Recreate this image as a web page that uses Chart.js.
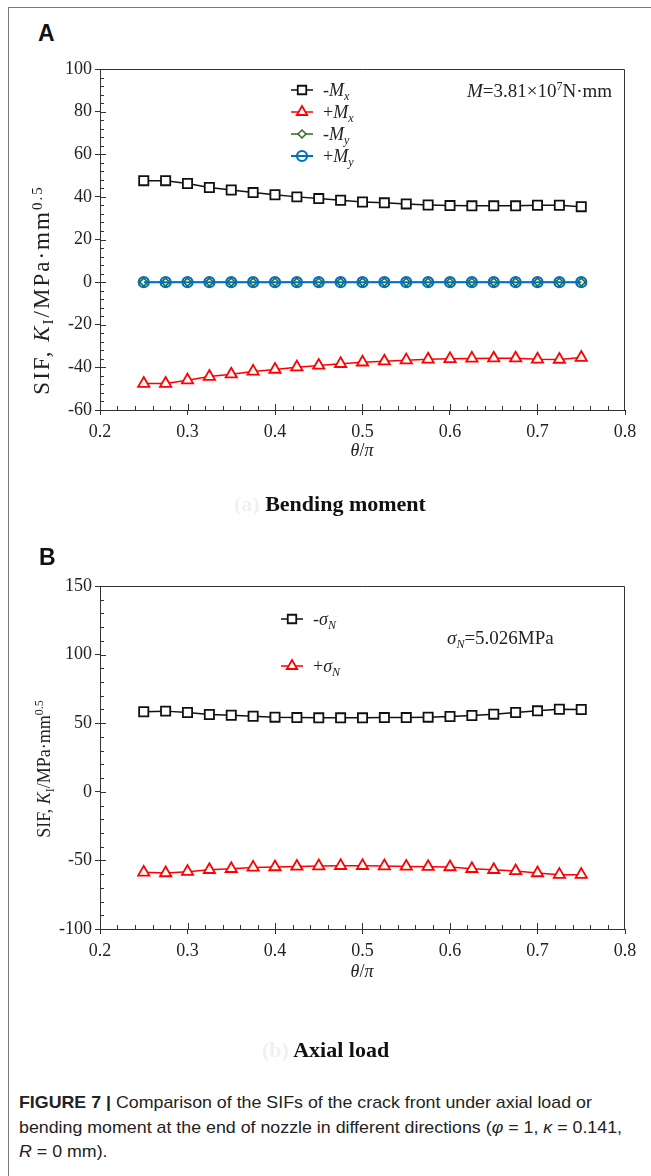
<!DOCTYPE html>
<html>
<head>
<meta charset="utf-8">
<title>Figure 7</title>
<script src="https://cdn.jsdelivr.net/npm/chart.js@4.4.1/dist/chart.umd.min.js"></script>
<style>
  html, body { margin: 0; padding: 0; background: #fff; }
  #page { position: relative; width: 651px; height: 1176px; overflow: hidden; }
  #frame { position: absolute; left: 8px; top: 7px; width: 700px; height: 1200px;
           border-left: 1.5px solid #7a7a7a; border-top: 1.5px solid #7a7a7a; }
  canvas { position: absolute; left: 0; }
  #chartA { top: 50px; }
  #chartB { top: 540px; }
  .t { position: absolute; white-space: nowrap; line-height: 1; transform: translateY(-50%);
       font-family: 'Liberation Serif', 'Times New Roman', serif; font-size: 18px; color: #222; }
  .c { transform: translate(-50%, -50%); }
  .rot { transform: translate(-50%, -50%) rotate(-90deg); }
  .big { font-size: 23px; letter-spacing: 2px; }
  .big .sub, .big .sup { font-size: 15px; }
  .panel { font-family: 'Liberation Sans', Arial, sans-serif; font-weight: bold; font-size: 23px; color: #111; }
  .sub { font-size: 12px; position: relative; top: 4px; }
  .sup { font-size: 12px; position: relative; top: -7px; }
  .sublbl { font-weight: bold; font-size: 22px; color: #111; }
  .faint { color: #f0f0f0; }
  .cap { position: absolute; left: 19px; top: 1091px; white-space: nowrap; transform-origin: 0 0;
         font-family: 'Liberation Sans', Arial, sans-serif;
         font-size: 17px; line-height: 24.5px; color: #222; }
  .cap span { display: inline-block; }
</style>
</head>
<body>
<div id="page">
  <div id="frame"></div>
  <canvas id="chartA" width="651" height="420"></canvas>
  <canvas id="chartB" width="651" height="440"></canvas>

  <!-- painel A -->
  <div class="t panel" style="left:38px; top:33px;">A</div>
  <div class="t" style="left:323px; top:90px;">-<i>M</i><i class="sub">x</i></div>
  <div class="t" style="left:323px; top:112px;">+<i>M</i><i class="sub">x</i></div>
  <div class="t" style="left:323px; top:134px;">-<i>M</i><i class="sub">y</i></div>
  <div class="t" style="left:323px; top:156px;">+<i>M</i><i class="sub">y</i></div>
  <div class="t" style="left:467px; top:90px; font-size:19px;"><i>M</i>=3.81×10<span class="sup">7</span>N·mm</div>
  <div class="t rot big" style="left:41px; top:290px;">SIF, <i>K</i><span class="sub">I</span>/MPa·mm<span class="sup">0.5</span></div>
  <div class="t c" style="left:362px; top:450px;"><i>θ</i>/<i>π</i></div>
  <div class="t sublbl" style="left:234px; top:504px;"><span class="faint">(a)</span> Bending moment</div>

  <!-- painel B -->
  <div class="t panel" style="left:39px; top:557px;">B</div>
  <div class="t" style="left:313px; top:619px;">-<i>σ<span class="sub">N</span></i></div>
  <div class="t" style="left:313px; top:666px;">+<i>σ<span class="sub">N</span></i></div>
  <div class="t" style="left:447px; top:637px; font-size:19px;"><i>σ<span class="sub">N</span></i>=5.026MPa</div>
  <div class="t rot" style="left:44px; top:769px;">SIF, <i>K</i><span class="sub">I</span>/MPa·mm<span class="sup">0.5</span></div>
  <div class="t c" style="left:362px; top:971px;"><i>θ</i>/<i>π</i></div>
  <div class="t sublbl" style="left:262px; top:1050px;"><span class="faint">(b)</span> Axial load</div>

  <div class="cap" id="legenda"><span><b>FIGURE 7 |</b> Comparison of the SIFs of the crack front under axial load or</span><br>
  <span id="linha2">bending moment at the end of nozzle in different directions (<i>φ</i> = 1, <i>κ</i> = 0.141,</span><br>
  <span><i>R</i> = 0 mm).</span></div>
</div>

<script>
// Posições ao longo da frente da trinca (θ/π)
const theta = [0.25, 0.275, 0.3, 0.325, 0.35, 0.375, 0.4, 0.425, 0.45, 0.475, 0.5,
               0.525, 0.55, 0.575, 0.6, 0.625, 0.65, 0.675, 0.7, 0.725, 0.75];

// (a) momento fletor
const negMx = [47.6, 47.6, 46.3, 44.4, 43.2, 42.0, 41.0, 40.0, 39.2, 38.4, 37.6,
               37.2, 36.7, 36.2, 35.9, 35.8, 35.8, 35.8, 36.1, 36.1, 35.4];
const posMx = [-47.6, -47.6, -46.0, -44.3, -43.2, -41.9, -41.0, -39.9, -39.1, -38.3, -37.6,
               -37.1, -36.6, -36.2, -36.0, -35.8, -35.7, -35.7, -36.2, -36.3, -35.4];
const negMy = [0, 0, 0, 0, 0, 0, 0, 0, 0, 0, 0, 0, 0, 0, 0, 0, 0, 0, 0, 0, 0];
const posMy = [0, 0, 0, 0, 0, 0, 0, 0, 0, 0, 0, 0, 0, 0, 0, 0, 0, 0, 0, 0, 0];

// (b) carga axial
const negSigma = [58.3, 58.8, 57.8, 56.3, 55.8, 55.1, 54.4, 54.1, 53.9, 53.9, 53.9,
                  54.1, 54.1, 54.4, 54.9, 55.6, 56.6, 57.8, 59.0, 60.2, 60.0];
const posSigma = [-58.7, -59.2, -58.2, -56.8, -56.1, -55.1, -54.8, -54.4, -54.1, -53.9, -53.9,
                  -54.1, -54.4, -54.6, -54.8, -56.1, -56.8, -57.7, -59.2, -60.4, -60.4];

// Rótulos dos eixos
const xTicks = [0.2, 0.3, 0.4, 0.5, 0.6, 0.7, 0.8];
const yTicksA = [-60, -40, -20, 0, 20, 40, 60, 80, 100];
const yTicksB = [-100, -50, 0, 50, 100, 150];

Chart.defaults.font.family = "'Liberation Serif', serif";
Chart.defaults.font.size = 18;
const fonteEixo = { family: "'Liberation Serif', serif", size: 18 };

function pontos(valores) {
  return theta.map((t, i) => ({ x: t, y: valores[i] }));
}

// Moldura, ticks internos e marcadores da legenda
const molduraTicks = {
  id: 'molduraTicks',
  afterDraw(chart, args, opts) {
    const { ctx, chartArea: a } = chart;
    const x = chart.scales.x;
    const y = chart.scales.y;
    ctx.save();
    ctx.strokeStyle = '#333';
    ctx.lineWidth = 1;
    ctx.beginPath();
    ctx.moveTo(a.left, a.top + 0.5);
    ctx.lineTo(a.right - 0.5, a.top + 0.5);
    ctx.lineTo(a.right - 0.5, a.bottom);

    const nx = Math.round((x.max - x.min) / opts.minorX);
    for (let i = 1; i < nx; i++) {
      const px = Math.round(x.getPixelForValue(x.min + i * opts.minorX)) + 0.5;
      const len = i % 5 === 0 ? 6 : 4;
      ctx.moveTo(px, a.bottom);
      ctx.lineTo(px, a.bottom - len);
    }
    const ny = Math.round((y.max - y.min) / opts.minorY);
    for (let i = 1; i < ny; i++) {
      const py = Math.round(y.getPixelForValue(y.min + i * opts.minorY)) + 0.5;
      const len = i % 5 === 0 ? 6 : 4;
      ctx.moveTo(a.left, py);
      ctx.lineTo(a.left + len, py);
    }
    ctx.stroke();

    (opts.legenda || []).forEach(item => {
      const ds = chart.data.datasets[item.ds];
      ctx.strokeStyle = ds.borderColor;
      ctx.lineWidth = ds.borderWidth;
      ctx.beginPath();
      ctx.moveTo(item.x - 11, item.y);
      ctx.lineTo(item.x + 11, item.y);
      ctx.stroke();
      ctx.fillStyle = ds.pointBackgroundColor;
      ctx.lineWidth = ds.pointBorderWidth;
      Chart.helpers.drawPoint(ctx, {
        pointStyle: ds.pointStyle, radius: item.r, borderWidth: ds.pointBorderWidth, rotation: 0
      }, item.x, item.y);
    });
    ctx.restore();
  }
};

function opcoes(yMin, yMax, yTicks, yMinor, pad, legenda) {
  return {
    responsive: false,
    animation: false,
    layout: { padding: pad },
    scales: {
      x: {
        type: 'linear', min: 0.2, max: 0.8,
        afterBuildTicks: s => { s.ticks = xTicks.map(v => ({ value: v })); },
        afterFit: s => { s.height = 40; },
        ticks: { callback: v => v.toFixed(1), font: fonteEixo, color: '#222', padding: 6, maxRotation: 0, autoSkip: false },
        grid: { drawOnChartArea: false, tickLength: 5, color: '#333' },
        border: { color: '#333', width: 1 }
      },
      y: {
        type: 'linear', min: yMin, max: yMax,
        afterBuildTicks: s => { s.ticks = yTicks.map(v => ({ value: v })); },
        afterFit: s => { s.width = 60; },
        ticks: { callback: v => String(v), font: fonteEixo, color: '#222', padding: 3, autoSkip: false },
        grid: { drawOnChartArea: false, tickLength: 5, color: '#333' },
        border: { color: '#333', width: 1 }
      }
    },
    plugins: {
      legend: { display: false },
      tooltip: { enabled: false },
      molduraTicks: { minorX: 0.02, minorY: yMinor, legenda: legenda }
    }
  };
}

function serieQuadrado(label, valores) {
  return {
    label: label, data: pontos(valores),
    borderColor: '#111', borderWidth: 1.5,
    pointStyle: 'rect', pointRadius: 6.5, pointBorderWidth: 1.8,
    pointBackgroundColor: '#fff', order: 0
  };
}

function serieTriangulo(label, valores) {
  return {
    label: label, data: pontos(valores),
    borderColor: '#ff0000', borderWidth: 1.5,
    pointStyle: 'triangle', pointRadius: 6.5, pointBorderWidth: 1.8,
    pointBackgroundColor: '#fff', order: 0
  };
}

function desenhar() {
  // Gráfico A: momento fletor
  new Chart(document.getElementById('chartA').getContext('2d'), {
    type: 'line',
    data: {
      datasets: [
        serieQuadrado('-Mx', negMx),
        serieTriangulo('+Mx', posMx),
        {
          label: '-My', data: pontos(negMy),
          borderColor: '#2e6b1e', borderWidth: 1.5,
          pointStyle: 'rectRot', pointRadius: 4, pointBorderWidth: 1.5,
          pointBackgroundColor: '#fff', order: 2
        },
        {
          label: '+My', data: pontos(posMy),
          borderColor: '#0070c0', borderWidth: 2,
          pointStyle: 'circle', pointRadius: 5, pointBorderWidth: 2.2,
          pointBackgroundColor: 'rgba(0,0,0,0)', order: 1
        }
      ]
    },
    options: opcoes(-60, 100, yTicksA, 4, { left: 40, right: 26, top: 19, bottom: 20 }, [
      { ds: 0, x: 302, y: 40, r: 6 },
      { ds: 1, x: 302, y: 62, r: 6 },
      { ds: 2, x: 302, y: 84, r: 4 },
      { ds: 3, x: 302, y: 106, r: 5 }
    ]),
    plugins: [molduraTicks]
  });

  // Gráfico B: carga axial
  new Chart(document.getElementById('chartB').getContext('2d'), {
    type: 'line',
    data: {
      datasets: [
        serieQuadrado('-σN', negSigma),
        serieTriangulo('+σN', posSigma)
      ]
    },
    options: opcoes(-100, 150, yTicksB, 10, { left: 40, right: 26, top: 46, bottom: 11 }, [
      { ds: 0, x: 292, y: 79, r: 6 },
      { ds: 1, x: 292, y: 126, r: 6 }
    ]),
    plugins: [molduraTicks]
  });

  // Legenda da figura em fonte estreita: ajusta a largura da 2ª linha
  const legenda = document.getElementById('legenda');
  const w = document.getElementById('linha2').getBoundingClientRect().width;
  legenda.style.transform = 'scaleX(' + (603 / w) + ')';
}

document.fonts.load("18px 'Liberation Serif'").finally(desenhar);
</script>
</body>
</html>
